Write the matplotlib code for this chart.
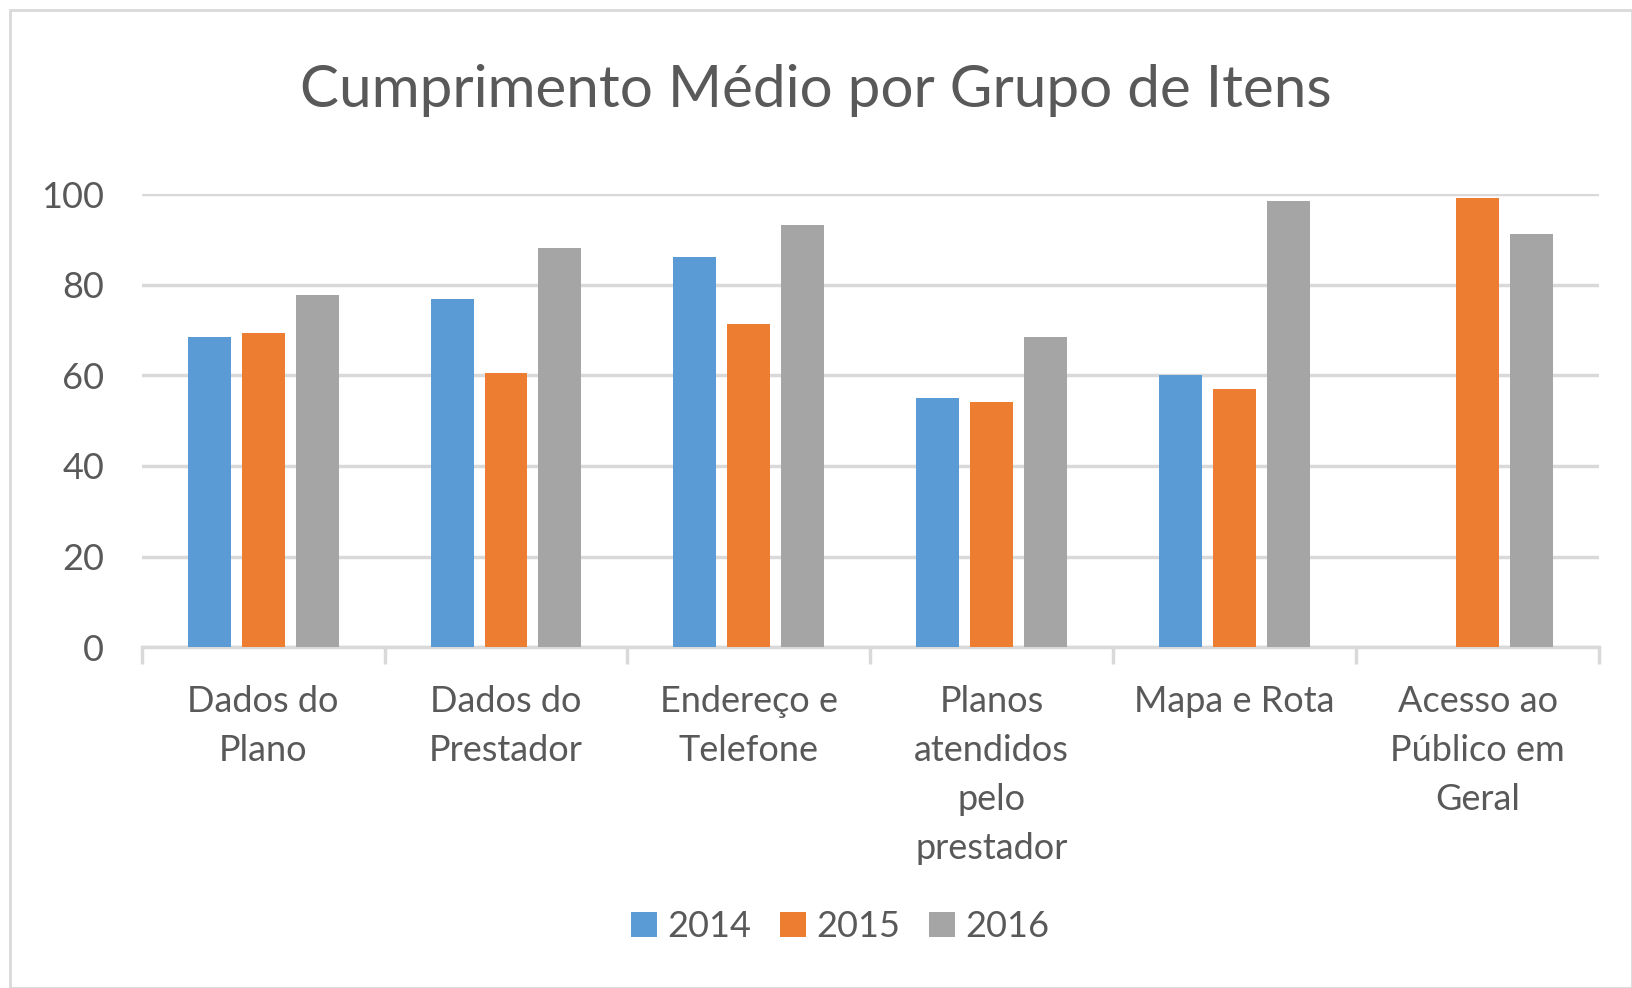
import matplotlib.pyplot as plt
import matplotlib.patches as mpatches
import numpy as np

categories = ['Dados do\nPlano', 'Dados do\nPrestador', 'Endereço e\nTelefone',
              'Planos\natendidos\npelo\nprestador', 'Mapa e Rota',
              'Acesso ao\nPúblico em\nGeral']
series_names = ['2014', '2015', '2016']
vals_2014 = [68.4, 76.8, 86.1, 54.9, 60.0, 0]
vals_2015 = [69.3, 60.5, 71.3, 54.0, 56.9, 99.1]
vals_2016 = [77.7, 88.1, 93.1, 68.4, 98.5, 91.2]
yticks = [0, 20, 40, 60, 80, 100]

colors = ['#5b9bd5', '#ed7d31', '#a5a5a5']
text_col = '#595959'
grid_col = '#d9d9d9'

plt.rcParams['font.family'] = ['Lato', 'DejaVu Sans']

fig = plt.figure(figsize=(16.32, 9.88), dpi=100)
# light border around the chart area
fig.patches.append(mpatches.Rectangle((10 / 1632, 0), 1 - 10 / 1632, 1 - 10 / 988,
                                      transform=fig.transFigure, fill=False,
                                      edgecolor=grid_col, linewidth=2))

ax = fig.add_axes([0.0868, 0.345, 0.893, 0.4586])

x = np.arange(len(categories))
width = 0.177
step = 0.222
for i, (vals, col) in enumerate(zip([vals_2014, vals_2015, vals_2016], colors)):
    ax.bar(x + (i - 1) * step, vals, width, color=col, label=series_names[i], zorder=3)

ax.set_xlim(-0.5, len(categories) - 0.5)
ax.set_ylim(0, 100)
ax.set_yticks(yticks)
ax.set_yticklabels([str(v) for v in yticks])
ax.yaxis.grid(True, color=grid_col, linewidth=2.5, zorder=0)
ax.tick_params(axis='y', length=0, pad=27, labelsize=26, labelcolor=text_col)

# category labels centred, boundary ticks between groups
ax.set_xticks(x)
ax.set_xticklabels(categories, fontsize=26, color=text_col, linespacing=1.6, va='top')
ax.tick_params(axis='x', which='major', length=0, pad=27)
ax.set_xticks(np.arange(-0.5, len(categories)), minor=True)
ax.tick_params(axis='x', which='minor', length=12, width=2.5, color=grid_col)

for s in ['top', 'right', 'left']:
    ax.spines[s].set_visible(False)
ax.spines['bottom'].set_color(grid_col)
ax.spines['bottom'].set_linewidth(2.5)

fig.text(0.5, 0.908, 'Cumprimento Médio por Grupo de Itens', ha='center', va='center',
         fontsize=42, color=text_col)

ax.legend(loc='center', bbox_to_anchor=(0.515, 0.062), bbox_transform=fig.transFigure,
          ncol=3, frameon=False, fontsize=26, labelcolor=text_col,
          handlelength=0.7, handleheight=0.7, handletextpad=0.3, columnspacing=0.8)

plt.savefig('out.png', dpi=100)
